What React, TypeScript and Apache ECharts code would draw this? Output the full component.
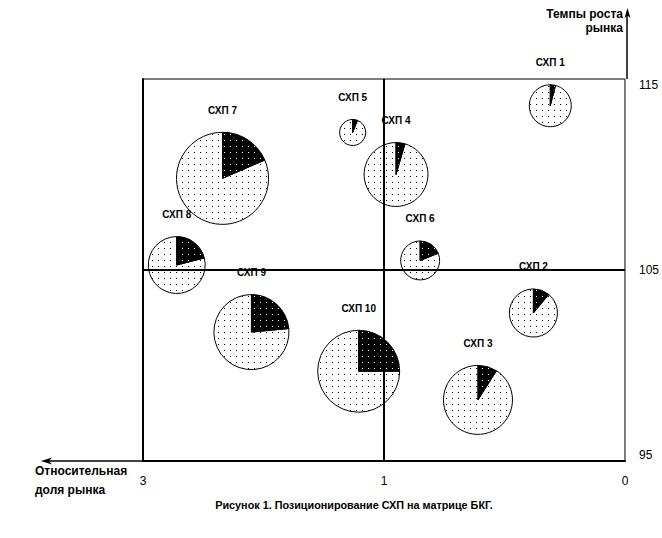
import React, { useEffect, useRef } from "react";
import * as echarts from "echarts";

const names = ["СХП 1", "СХП 2", "СХП 3", "СХП 4", "СХП 5", "СХП 6", "СХП 7", "СХП 8", "СХП 9", "СХП 10"];
const relativeShare = [0.31, 0.38, 0.61, 0.95, 1.26, 0.85, 2.34, 2.72, 2.1, 1.21];
const marketGrowth = [113.6, 102.75, 98.2, 110.0, 112.2, 105.5, 109.8, 105.26, 101.75, 99.7];
const salesVolume = [440, 580, 1190, 1020, 170, 380, 2120, 810, 1410, 1680];
const leaderShare = [0.04, 0.11, 0.09, 0.045, 0.06, 0.19, 0.185, 0.21, 0.235, 0.25];
const xTickLabels = ["3", "1", "0"];
const yTicks = { min: 95, max: 115, step: 10 };
const yDivider = 105;
const xDivider = 1;

// piecewise relative share scale: 3..1 on left half, 1..0 on right half
const shareToPos = (s: number) => (s >= 1 ? (3 - s) / 2 : 2 - s);

function makePattern(bg: string, dot: string) {
  const c = document.createElement("canvas");
  c.width = 6;
  c.height = 6;
  const ctx = c.getContext("2d")!;
  ctx.fillStyle = bg;
  ctx.fillRect(0, 0, 6, 6);
  ctx.fillStyle = dot;
  ctx.fillRect(2, 2, 1, 1);
  return { image: c, repeat: "repeat" } as any;
}

export default function App() {
  const ref = useRef<HTMLDivElement>(null);
  useEffect(() => {
    document.body.style.margin = "0";
    const chart = echarts.init(ref.current!, null, { renderer: "svg" });
    const lightFill = makePattern("#ffffff", "#000000");
    const darkFill = makePattern("#000000", "#ffffff");
    const data = names.map((n, i) => [shareToPos(relativeShare[i]), marketGrowth[i], salesVolume[i], leaderShare[i], n]);
    const font = "Liberation Sans, Arial, sans-serif";

    chart.setOption({
      animation: false,
      grid: { left: 143, right: 35, top: 79, bottom: 77, show: true, borderColor: "#000", borderWidth: 1 },
      xAxis: {
        type: "value",
        min: 0,
        max: 2,
        interval: 1,
        axisLine: { show: true, lineStyle: { color: "#000", width: 2 } },
        axisTick: { show: false },
        splitLine: { show: false },
        axisLabel: {
          color: "#000",
          fontSize: 12,
          fontFamily: font,
          margin: 14,
          formatter: (v: number) => xTickLabels[Math.round(v)] ?? "",
        },
      },
      yAxis: {
        type: "value",
        position: "right",
        min: yTicks.min,
        max: yTicks.max,
        interval: yTicks.step,
        axisLine: { show: true, lineStyle: { color: "#000", width: 2 } },
        axisTick: { show: false },
        splitLine: { show: false },
        axisLabel: {
          color: "#000",
          fontSize: 12,
          fontFamily: font,
          margin: 14,
          verticalAlignMaxLabel: "top",
          verticalAlignMinLabel: "bottom",
        },
      },
      graphic: [
        { type: "line", shape: { x1: 627, y1: 79, x2: 627, y2: 12 }, style: { stroke: "#000", lineWidth: 1.5 } },
        { type: "polygon", shape: { points: [[627.5, 8], [624.5, 18], [627.5, 15.5], [630.5, 18]] }, style: { fill: "#000" } },
        { type: "line", shape: { x1: 143, y1: 461, x2: 44, y2: 461 }, style: { stroke: "#000", lineWidth: 1.5 } },
        { type: "polygon", shape: { points: [[41, 461], [52, 457.5], [49, 461], [52, 464.5]] }, style: { fill: "#000" } },
        { type: "text", x: 623, y: 14, style: { text: "Темпы роста", fill: "#000", font: `bold 12px ${font}`, align: "right", verticalAlign: "middle" } },
        { type: "text", x: 623, y: 28, style: { text: "рынка", fill: "#000", font: `bold 12px ${font}`, align: "right", verticalAlign: "middle" } },
        { type: "text", x: 35, y: 471, style: { text: "Относительная", fill: "#000", font: `bold 12px ${font}`, align: "left", verticalAlign: "middle" } },
        { type: "text", x: 35, y: 490, style: { text: "доля рынка", fill: "#000", font: `bold 12px ${font}`, align: "left", verticalAlign: "middle" } },
        { type: "text", x: 354, y: 505, style: { text: "Рисунок 1. Позиционирование СХП на матрице БКГ.", fill: "#000", font: `bold 10.8px ${font}`, align: "center", verticalAlign: "middle" } },
      ],
      series: [
        {
          type: "custom",
          clip: false,
          data,
          renderItem: (params: any, api: any) => {
            const c = api.coord([api.value(0), api.value(1)]);
            const r = Math.sqrt(api.value(2));
            const f = api.value(3);
            const start = -Math.PI / 2;
            const mid = start + 2 * Math.PI * f;
            const label = names[params.dataIndex];
            return {
              type: "group",
              children: [
                {
                  type: "sector",
                  shape: { cx: c[0], cy: c[1], r, r0: 0, startAngle: mid, endAngle: start + 2 * Math.PI },
                  style: { fill: lightFill, stroke: "#000", lineWidth: 1 },
                },
                {
                  type: "sector",
                  shape: { cx: c[0], cy: c[1], r, r0: 0, startAngle: start, endAngle: mid },
                  style: { fill: darkFill, stroke: "#000", lineWidth: 1 },
                },
                {
                  type: "text",
                  x: c[0],
                  y: c[1] - r - 22,
                  style: { text: label, fill: "#000", font: `bold 10px ${font}`, align: "center", verticalAlign: "middle" },
                },
              ],
            };
          },
          markLine: {
            silent: true,
            symbol: "none",
            label: { show: false },
            lineStyle: { color: "#000", width: 2, type: "solid" },
            data: [{ xAxis: xDivider }, { yAxis: yDivider }],
          },
        },
      ],
    });
    return () => chart.dispose();
  }, []);
  return <div ref={ref} style={{ width: 662, height: 538 }} />;
}
